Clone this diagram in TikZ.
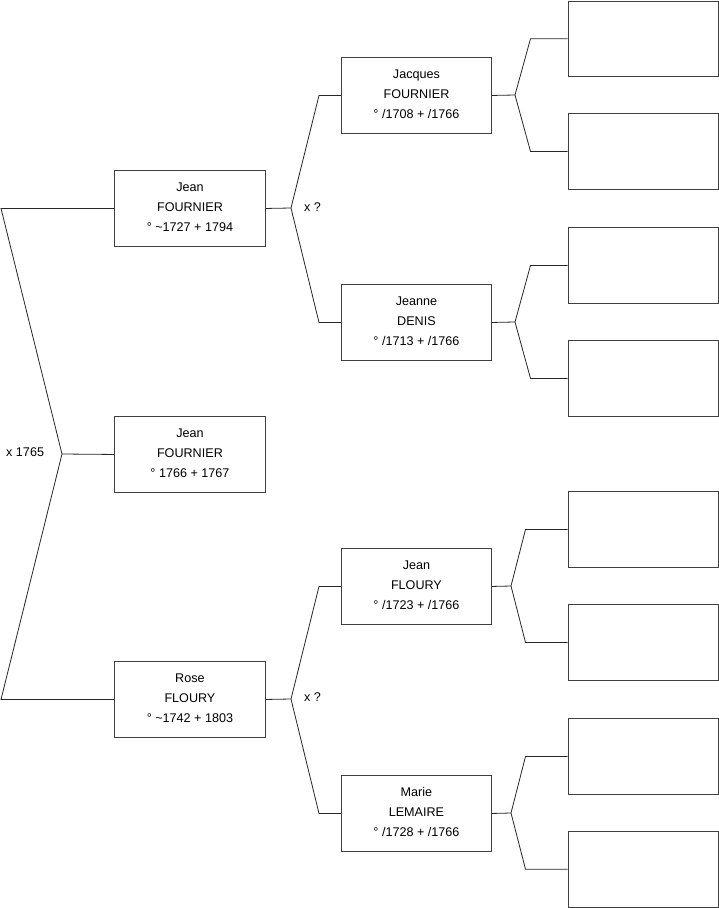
\documentclass[tikz,border=0pt]{standalone}
\usepackage{fontspec}
\setmainfont{Liberation Sans}
\begin{document}
\begin{tikzpicture}[x=1pt,y=-1pt,
  pbox/.style={draw=black!75,line width=0.9pt,minimum width=151pt,minimum height=76pt,
    inner sep=0pt,align=center,font=\fontsize{12.6}{20}\selectfont,anchor=north west},
  ptxt/.style={execute at end node={\rule[-3.5pt]{0pt}{0pt}}},
  conn/.style={draw=black!85,line width=0.8pt},
  lbl/.style={font=\fontsize{12.6}{14}\selectfont,anchor=west,inner sep=0pt}]
\useasboundingbox (0,0) rectangle (719,908);
% generation 1
\node[pbox,ptxt] (jf) at (114,170) {Jean\\FOURNIER\\° \textasciitilde1727 + 1794};
\node[pbox,ptxt] (jc) at (114,416) {Jean\\FOURNIER\\° 1766 + 1767};
\node[pbox,ptxt] (rf) at (114,661) {Rose\\FLOURY\\° \textasciitilde1742 + 1803};
% generation 2
\node[pbox,ptxt,minimum width=150pt] (jq) at (341,57) {Jacques\\FOURNIER\\° /1708 + /1766};
\node[pbox,ptxt,minimum width=150pt] (jd) at (341,284) {Jeanne\\DENIS\\° /1713 + /1766};
\node[pbox,ptxt,minimum width=150pt] (jl) at (341,548) {Jean\\FLOURY\\° /1723 + /1766};
\node[pbox,ptxt,minimum width=150pt] (ml) at (341,775) {Marie\\LEMAIRE\\° /1728 + /1766};
% generation 3
\node[pbox,minimum width=150.5pt,minimum height=75.5pt] (a1) at (567.5,0.5) {};
\node[pbox,minimum width=150.5pt] (a2) at (567.5,113) {};
\node[pbox,minimum width=150.5pt] (a3) at (567.5,227) {};
\node[pbox,minimum width=150.5pt] (a4) at (567.5,340) {};
\node[pbox,minimum width=150.5pt] (a5) at (567.5,491) {};
\node[pbox,minimum width=150.5pt] (a6) at (567.5,604) {};
\node[pbox,minimum width=150.5pt] (a7) at (567.5,718) {};
\node[pbox,minimum width=150.5pt,minimum height=75.5pt] (a8) at (567.5,831) {};
% apex coordinates
\coordinate (p0) at (62,454);
\coordinate (p1) at (291,208);
\coordinate (p2) at (291,699);
\coordinate (q1) at (515,95);
\coordinate (q2) at (515,322);
\coordinate (q3) at (511,586);
\coordinate (q4) at (511,813);
% connectors gen1
\draw[conn] (jf.west) -- ++(-113,0) -- (p0) -- ([xshift=-113pt]rf.west) -- (rf.west);
\draw[conn] (p0) -- (jc.west);
% connectors gen2
\draw[conn] (jf.east) -- (p1);
\draw[conn] (jq.west) -- ++(-22,0) -- (p1) -- ([xshift=-22pt]jd.west) -- (jd.west);
\draw[conn] (rf.east) -- (p2);
\draw[conn] (jl.west) -- ++(-22,0) -- (p2) -- ([xshift=-22pt]ml.west) -- (ml.west);
% connectors gen3
\draw[conn] (jq.east) -- (q1);
\draw[conn] (a1.west) -- ++(-37,0) -- (q1) -- ([xshift=-37pt]a2.west) -- (a2.west);
\draw[conn] (jd.east) -- (q2);
\draw[conn] (a3.west) -- ++(-37,0) -- (q2) -- ([xshift=-37pt]a4.west) -- (a4.west);
\draw[conn] (jl.east) -- (q3);
\draw[conn] (a5.west) -- ++(-42,0) -- (q3) -- ([xshift=-42pt]a6.west) -- (a6.west);
\draw[conn] (ml.east) -- (q4);
\draw[conn] (a7.west) -- ++(-42,0) -- (q4) -- ([xshift=-42pt]a8.west) -- (a8.west);
% labels
\node[lbl] (m0) at (6,452) {x 1765};
\node[lbl] (m1) at (304,207) {x ?};
\node[lbl] (m2) at (304,697) {x ?};
\end{tikzpicture}
\end{document}
